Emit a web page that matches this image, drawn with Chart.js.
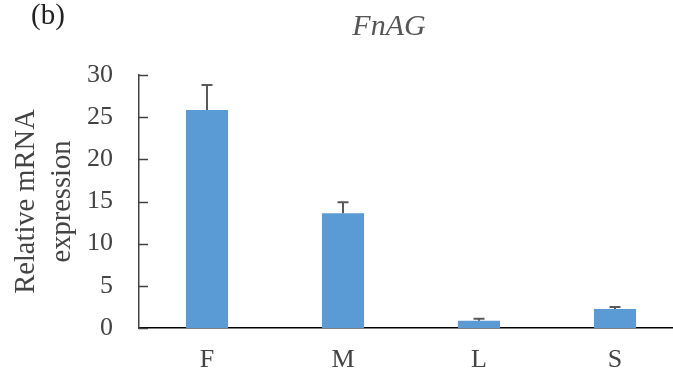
<!DOCTYPE html>
<html>
<head>
<meta charset="utf-8">
<script src="https://cdn.jsdelivr.net/npm/chart.js@4"></script>
<style>
  html, body { margin: 0; padding: 0; background: #fff; overflow: hidden; }
  #wrap { width: 683px; height: 377px; }
</style>
</head>
<body>
<div id="wrap"><canvas id="grafica"></canvas></div>
<script>
// datos
const categorias = ['F', 'M', 'L', 'S'];
const expresion = [25.85, 13.6, 0.85, 2.25];
const errores = [2.95, 1.3, 0.25, 0.25];
const ticksY = [0, 5, 10, 15, 20, 25, 30];

const serif = '"Liberation Serif", "Times New Roman", serif';

// barras de error + marcas internas del eje y + textos de cabecera
const extras = {
  id: 'extras',
  afterDatasetsDraw(chart) {
    const ctx = chart.ctx;
    const x = chart.scales.x, y = chart.scales.y;
    ctx.save();
    // marcas hacia adentro
    ctx.strokeStyle = '#404040';
    ctx.lineWidth = 1.5;
    ticksY.forEach(v => {
      const py = Math.round(y.getPixelForValue(v)) + 0.5;
      ctx.beginPath();
      ctx.moveTo(chart.chartArea.left, py);
      ctx.lineTo(chart.chartArea.left + 9, py);
      ctx.stroke();
    });
    // error bars
    ctx.strokeStyle = '#595959';
    ctx.lineWidth = 2;
    expresion.forEach((v, i) => {
      const px = x.getPixelForValue(i);
      const yTop = y.getPixelForValue(v + errores[i]);
      const yBar = y.getPixelForValue(v);
      ctx.beginPath();
      ctx.moveTo(px, yBar);
      ctx.lineTo(px, yTop);
      ctx.moveTo(px - 5.5, yTop);
      ctx.lineTo(px + 5.5, yTop);
      ctx.stroke();
    });
    // cabecera
    ctx.fillStyle = '#222';
    ctx.textBaseline = 'middle';
    ctx.textAlign = 'left';
    ctx.font = '29px ' + serif;
    ctx.fillText('(b)', 31, 16);
    ctx.fillStyle = '#555';
    ctx.textAlign = 'center';
    ctx.font = 'italic 30px ' + serif;
    ctx.fillText('FnAG', 389, 27);
    ctx.restore();
  }
};

new Chart(document.getElementById('grafica'), {
  type: 'bar',
  data: {
    labels: categorias,
    datasets: [{
      data: expresion,
      backgroundColor: '#5B9BD5',
      barPercentage: 0.31,
      categoryPercentage: 1
    }]
  },
  options: {
    responsive: true,
    maintainAspectRatio: false,
    animation: false,
    layout: { padding: { top: 75, right: 0, bottom: 0, left: 9 } },
    plugins: { legend: { display: false }, tooltip: { enabled: false } },
    scales: {
      x: {
        grid: { display: false, drawTicks: false },
        border: { color: '#000', width: 1.5 },
        ticks: { color: '#444', font: { family: serif, size: 26 }, padding: 17 },
        afterFit: axis => { axis.height = 49; }
      },
      y: {
        min: 0,
        max: 30,
        afterBuildTicks: axis => { axis.ticks = ticksY.map(v => ({ value: v })); },
        grid: { display: false, drawTicks: false },
        border: { color: '#404040', width: 1.5 },
        ticks: { color: '#444', font: { family: serif, size: 26 }, padding: 26 },
        afterFit: axis => { axis.width = 130; },
        title: {
          display: true,
          text: ['Relative mRNA', 'expression'],
          color: '#444',
          font: { family: serif, size: 28.5, lineHeight: 1.26 },
          padding: { top: 0, bottom: 4 }
        }
      }
    }
  },
  plugins: [extras]
});
</script>
</body>
</html>
